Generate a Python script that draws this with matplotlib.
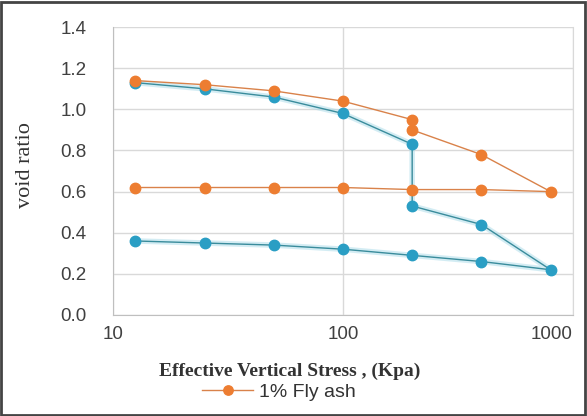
import numpy as np
import matplotlib.pyplot as plt
from matplotlib.patches import Rectangle

# Loading then unloading path (kPa, void ratio)
stress = [12.5, 25, 50, 100, 200, 200, 400, 800, 400, 200, 100, 50, 25, 12.5]
e_flyash = [1.14, 1.12, 1.09, 1.04, 0.95, 0.90, 0.78, 0.60, 0.61, 0.61, 0.62, 0.62, 0.62, 0.62]
e_base = [1.13, 1.10, 1.06, 0.98, 0.83, 0.53, 0.44, 0.22, 0.26, 0.29, 0.32, 0.34, 0.35, 0.36]

yticks = [0.0, 0.2, 0.4, 0.6, 0.8, 1.0, 1.2, 1.4]

orange = "#ED7D31"
teal = "#2A9EC4"

fig = plt.figure(figsize=(5.87, 4.16), dpi=100)
ax = fig.add_axes([0.1925, 0.2428, 0.7835, 0.692])

# Soft glow behind the base curve
ax.plot(stress, e_base, color="#a9dbe9", lw=4, alpha=0.5, zorder=2)
ax.plot(stress, e_base, color="#3a8c9c", lw=1.0, marker="o", ms=7.5,
        mfc=teal, mec=teal, zorder=3)
ax.plot(stress, e_flyash, color="#D9824A", lw=1.0, marker="o", ms=7.5,
        mfc=orange, mec=orange, label="1% Fly ash", zorder=4)

ax.set_xscale("log")
ax.set_xlim(10, 1000)
ax.set_ylim(0, 1.4)
ax.set_yticks(yticks)
ax.set_yticklabels([f"{v:.1f}" for v in yticks])
ax.set_xticks([10, 100, 1000])
ax.set_xticklabels(["10", "100", "1000"])
ax.minorticks_off()

ax.grid(True, color="#d9d9d9", lw=1.0)
ax.set_axisbelow(True)
ax.spines["top"].set_visible(False)
ax.spines["right"].set_color("#d9d9d9")
for side in ["left", "bottom"]:
    ax.spines[side].set_color("#bfbfbf")
ax.tick_params(axis="y", length=0, labelsize=13.5, colors="#404040", pad=19)
ax.tick_params(axis="x", length=0, labelsize=13.5, colors="#404040", pad=8)
for lab in ax.get_xticklabels() + ax.get_yticklabels():
    lab.set_fontfamily("Liberation Sans")
xlabs = ax.get_xticklabels()
xlabs[-1].set_horizontalalignment("right")
xlabs[-1].set_x(1000)

ax.set_ylabel("void ratio", family="Liberation Serif", fontsize=16,
              color="#333333")
ax.yaxis.set_label_coords(-0.17, 0.52)
ax.set_xlabel("Effective Vertical Stress , (Kpa)", family="Liberation Serif",
              fontweight="bold", fontsize=14, color="#333333")
ax.xaxis.set_label_coords(0.385, -0.165)

handles, labels = ax.get_legend_handles_labels()
fig.legend(handles, labels, loc="center", bbox_to_anchor=(0.475, 0.057),
           frameon=False, prop={"family": "Liberation Sans", "size": 14},
           handlelength=2.6, handletextpad=0.3, markerscale=0.9,
           labelcolor="#333333")

# Outer frame
fig.patches.append(Rectangle((0.002, 0.003), 0.994, 0.993, transform=fig.transFigure,
                             fill=False, ec="#444444", lw=2))

fig.savefig("out.png", dpi=100)
